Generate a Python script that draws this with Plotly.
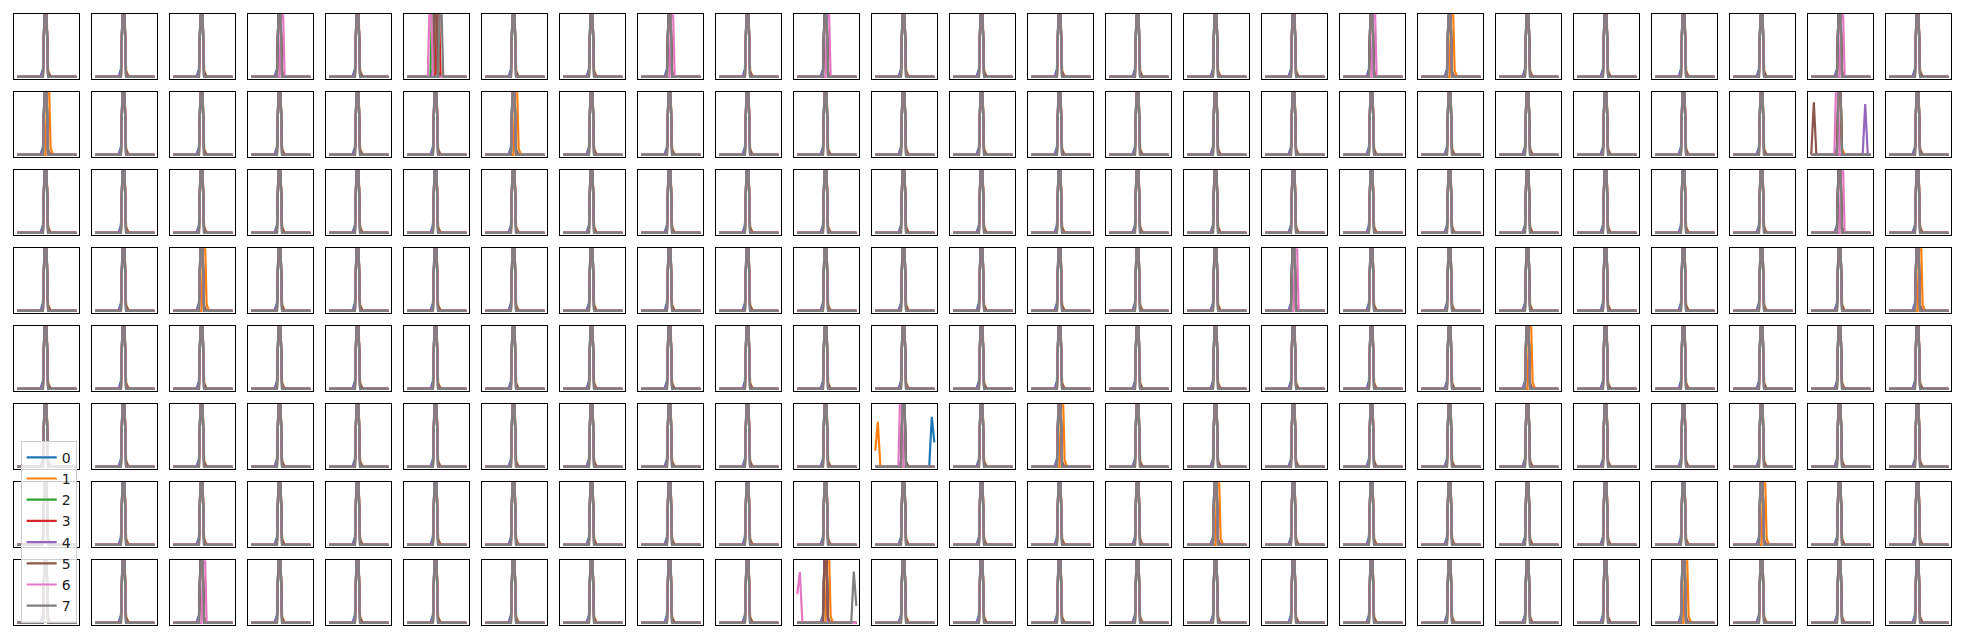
import plotly.graph_objects as go

# ---------------- data ----------------
SERIES_NAMES = ["0", "1", "2", "3", "4", "5", "6", "7"]
SERIES_COLORS = ["#1f77b4", "#ff7f0e", "#2ca02c", "#d62728",
                 "#9467bd", "#8c564b", "#e377c2", "#7f7f7f"]
N_ROWS = 8
N_COLS = 25
X_INDEX = [0, 1, 2, 3, 4, 5, 6, 7, 8, 9, 10, 11,
           12, 13, 14, 15, 16, 17, 18, 19, 20, 21, 22, 23]
CENTRAL_PEAK_VALUE = 1.7          # central peaks run off the top of each panel
DEFAULT_PEAK_INDEX = [11, 11, 11, 11, 11, 11, 11, 11]
# small shoulders beside the central peak (value one bin left / right)
LEFT_SHOULDER = [0.12, 0.0, 0.0, 0.05, 0.08, 0.0, 0.0, 0.0]
RIGHT_SHOULDER = [0.0, 0.1, 0.0, 0.0, 0.0, 0.08, 0.0, 0.0]

# panels (row, col) where a series' central peak sits at another index
SHIFTED_PEAKS = {
    (0, 3): {6: 12},
    (0, 5): {6: 9, 2: 10, 3: 12, 7: 13},
    (0, 8): {6: 12},
    (0, 10): {6: 12},
    (0, 17): {6: 12},
    (0, 18): {1: 12},
    (0, 23): {6: 12},
    (1, 0): {1: 12},
    (1, 6): {1: 12},
    (1, 23): {6: 10, 7: 11},
    (2, 23): {6: 12},
    (3, 2): {1: 12},
    (3, 16): {6: 12},
    (3, 24): {1: 12},
    (4, 19): {1: 12},
    (5, 11): {6: 10, 7: 11},
    (5, 13): {1: 12},
    (6, 15): {1: 12},
    (6, 22): {1: 12},
    (7, 2): {6: 12},
    (7, 10): {5: 11, 1: 12},
    (7, 21): {1: 12},
}

# panels (row, col) where a series has an off-centre peak: (index, value) pairs
SIDE_PEAKS = {
    (1, 23): {5: [(1, 0.84)], 4: [(21, 0.81)]},
    (5, 11): {1: [(0, 0.26), (1, 0.72)], 0: [(22, 0.80), (23, 0.39)]},
    (7, 10): {6: [(0, 0.46), (1, 0.81)], 7: [(22, 0.82), (23, 0.27)]},
}

# ---------------- figure ----------------
PAGE_OFFSET = 8.0                  # default body margin of the html page
W, H = 1964 - 2 * 8, 643 - 2 * 8
LEFT0, TOP0, PITCH, SIZE = 14.3 - PAGE_OFFSET, 14.3 - PAGE_OFFSET, 78.0, 65.0

fig = go.Figure()
layout = {}

for r in range(N_ROWS):
    for c in range(N_COLS):
        k = r * N_COLS + c + 1
        sfx = "" if k == 1 else str(k)
        x0 = (LEFT0 + PITCH * c) / W
        x1 = (LEFT0 + PITCH * c + SIZE) / W
        y1 = 1 - (TOP0 + PITCH * r) / H
        y0 = 1 - (TOP0 + PITCH * r + SIZE) / H
        common = dict(showline=True, mirror=True, linecolor="black", linewidth=1.2,
                      showticklabels=False, ticks="", showgrid=False,
                      zeroline=False, fixedrange=True)
        layout["xaxis" + sfx] = dict(domain=[x0, x1], range=[-1.15, 24.15],
                                     anchor="y" + sfx, **common)
        layout["yaxis" + sfx] = dict(domain=[y0, y1], range=[-0.04, 1.0],
                                     anchor="x" + sfx, **common)
        shifted = SHIFTED_PEAKS.get((r, c), {})
        side = SIDE_PEAKS.get((r, c), {})
        for s, name in enumerate(SERIES_NAMES):
            y = [0.0] * len(X_INDEX)
            if s in side:
                for idx, val in side[s]:
                    y[idx] = val
            else:
                p = shifted.get(s, DEFAULT_PEAK_INDEX[s])
                y[p] = CENTRAL_PEAK_VALUE
                if p - 1 >= 0:
                    y[p - 1] = LEFT_SHOULDER[s]
                if p + 1 < len(X_INDEX):
                    y[p + 1] = RIGHT_SHOULDER[s]
            fig.add_trace(go.Scatter(
                x=X_INDEX, y=y, mode="lines", name=name,
                line=dict(color=SERIES_COLORS[s], width=2.2),
                showlegend=(k == 1), legendgroup=name,
                xaxis="x" + sfx, yaxis="y" + sfx, hoverinfo="skip"))

fig.update_layout(
    **layout,
    width=W, height=H,
    margin=dict(l=0, r=0, t=0, b=0),
    paper_bgcolor="white", plot_bgcolor="white",
    font=dict(family="DejaVu Sans", size=14, color="#222222"),
    legend=dict(x=(20.7 - PAGE_OFFSET) / W, y=1 - (622.7 - PAGE_OFFSET) / H,
                xanchor="left", yanchor="bottom",
                bgcolor="rgba(255,255,255,0.8)", bordercolor="#cccccc",
                borderwidth=1, tracegroupgap=1, traceorder="normal",
                font=dict(family="DejaVu Sans", size=14, color="#222222")),
)

fig.write_html("out.html")
